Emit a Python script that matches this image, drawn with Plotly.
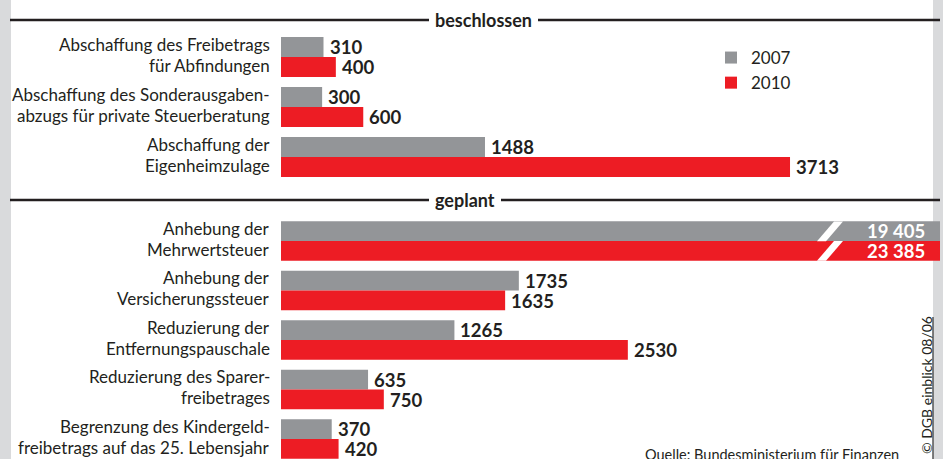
import plotly.graph_objects as go

# ---------------- data ----------------
SERIES_NAMES = ["2007", "2010"]
SERIES_COLORS = ["#939598", "#ed1c24"]

SECTION_TITLES = ["beschlossen", "geplant"]

CATS_BESCHLOSSEN = [
    "Abschaffung des Freibetrags|für Abfindungen",
    "Abschaffung des Sonderausgaben-|abzugs für private Steuerberatung",
    "Abschaffung der|Eigenheimzulage",
]
VALS_BESCHLOSSEN_2007 = [310, 300, 1488]
VALS_BESCHLOSSEN_2010 = [400, 600, 3713]

CATS_GEPLANT = [
    "Anhebung der|Mehrwertsteuer",
    "Anhebung der|Versicherungssteuer",
    "Reduzierung der|Entfernungspauschale",
    "Reduzierung des Sparer-|freibetrages",
    "Begrenzung des Kindergeld-|freibetrags auf das 25. Lebensjahr",
]
VALS_GEPLANT_2007 = [19405, 1735, 1265, 635, 370]
VALS_GEPLANT_2010 = [23385, 1635, 2530, 750, 420]

SOURCE = "Quelle: Bundesministerium für Finanzen"
CREDIT = "© DGB einblick 08/06"

# ---------------- layout constants ----------------
W, H = 943, 459
FONT = "Lato, Liberation Sans, sans-serif"
TXT = "#231f20"
XMAX = 4807
PLOT_L, PLOT_R = 281, 940


def px_x(p):
    return p / W


def px_y(p):
    return 1 - p / H


def fmt(v):
    return f"{v:,}".replace(",", " ") if v >= 10000 else str(v)


fig = go.Figure()

sections = [
    (CATS_BESCHLOSSEN, [VALS_BESCHLOSSEN_2007, VALS_BESCHLOSSEN_2010], "x", "y"),
    (CATS_GEPLANT, [VALS_GEPLANT_2007, VALS_GEPLANT_2010], "x2", "y2"),
]

annotations = []
for si, (cats, vals, xa, ya) in enumerate(sections):
    for k in range(2):
        fig.add_trace(go.Bar(
            y=cats, x=vals[k], orientation="h", name=SERIES_NAMES[k],
            marker=dict(color=SERIES_COLORS[k], line=dict(width=0)),
            xaxis=xa, yaxis=ya, showlegend=(si == 0), legendgroup=SERIES_NAMES[k],
            hoverinfo="skip",
        ))
        for c, v in zip(cats, vals[k]):
            ysh = 10 if k == 0 else -10
            if v > XMAX:
                annotations.append(dict(
                    x=px_x(927), xref="paper", y=c, yref=ya, xanchor="right",
                    yshift=ysh, text=f"<b>{fmt(v)}</b>", showarrow=False,
                    font=dict(family=FONT, size=18.5, color="white")))
            else:
                annotations.append(dict(
                    x=v, xref=xa, y=c, yref=ya, xanchor="left", xshift=4,
                    yshift=ysh, text=f"<b>{fmt(v)}</b>", showarrow=False,
                    font=dict(family=FONT, size=18.5, color=TXT)))
    for c in cats:
        l1, l2 = c.split("|")
        for txt, ysh in ((l1, 13), (l2, -8)):
            annotations.append(dict(
                x=px_x(272), xref="paper", y=c, yref=ya, xanchor="right",
                yshift=ysh, text=txt, showarrow=False,
                font=dict(family=FONT, size=17, color=TXT)))

# section headers
for title, ypx in zip(SECTION_TITLES, [20, 200]):
    annotations.append(dict(
        x=px_x(429), y=px_y(ypx), xref="paper", yref="paper", xanchor="left",
        yanchor="middle", text=f"<b>{title}</b>", showarrow=False,
        bgcolor="white", borderpad=5, borderwidth=1, bordercolor="white",
        font=dict(family=FONT, size=18, color=TXT)))

# source and credit
annotations.append(dict(
    x=px_x(901), y=px_y(444), xref="paper", yref="paper", xanchor="right",
    yanchor="top", text=SOURCE, showarrow=False,
    font=dict(family=FONT, size=14.5, color=TXT)))
annotations.append(dict(
    x=px_x(926), y=px_y(385), xref="paper", yref="paper", xanchor="center",
    yanchor="middle", text=CREDIT, textangle=-90, showarrow=False,
    font=dict(family=FONT, size=14, color=TXT)))

shapes = [
    # side strips
    dict(type="rect", xref="paper", yref="paper", x0=0, x1=px_x(11), y0=0, y1=1,
         fillcolor="#d9dadc", line=dict(width=0), layer="below"),
    dict(type="rect", xref="paper", yref="paper", x0=px_x(933), x1=1, y0=0, y1=1,
         fillcolor="#d9dadc", line=dict(width=0), layer="below"),
    dict(type="line", xref="paper", yref="paper", x0=px_x(933), x1=px_x(933),
         y0=px_y(317), y1=0, line=dict(color="#555555", width=1.5)),
]
# section rules
for ypx in [20, 200]:
    shapes.append(dict(type="line", xref="paper", yref="paper", x0=px_x(10),
                       x1=px_x(940), y0=px_y(ypx), y1=px_y(ypx),
                       line=dict(color=TXT, width=2.5), layer="below"))
# axis-break marks on the off-scale bars (white slanted stripes)
for top in [221.5, 241]:
    bot = top + 19.8
    shapes.append(dict(
        type="path", xref="paper", yref="paper",
        path=(f"M{px_x(817)},{px_y(bot)} L{px_x(826)},{px_y(bot)} "
              f"L{px_x(843)},{px_y(top)} L{px_x(834)},{px_y(top)} Z"),
        fillcolor="white", line=dict(width=0), layer="above"))

axis_common = dict(showgrid=False, zeroline=False, showticklabels=False,
                   showline=False, ticks="")

fig.update_layout(
    width=W, height=H,
    margin=dict(l=0, r=0, t=0, b=0),
    paper_bgcolor="white", plot_bgcolor="rgba(0,0,0,0)",
    barmode="group", bargap=0.2, bargroupgap=0,
    font=dict(family=FONT, size=17, color=TXT),
    xaxis=dict(domain=[px_x(PLOT_L), px_x(PLOT_R)], range=[0, XMAX], anchor="y",
               **axis_common),
    xaxis2=dict(domain=[px_x(PLOT_L), px_x(PLOT_R)], range=[0, XMAX], anchor="y2",
                **axis_common),
    yaxis=dict(domain=[px_y(182), px_y(32)], type="category",
               categoryorder="array", categoryarray=CATS_BESCHLOSSEN,
               range=[2.5, -0.5], anchor="x", **axis_common),
    yaxis2=dict(domain=[0, px_y(216.25)], type="category",
                categoryorder="array", categoryarray=CATS_GEPLANT,
                range=[4.404, -0.5], anchor="x2", **axis_common),
    legend=dict(x=px_x(711), y=px_y(40), xanchor="left", yanchor="top",
                bgcolor="rgba(0,0,0,0)", font=dict(family=FONT, size=17, color=TXT),
                traceorder="normal", itemclick=False, itemdoubleclick=False),
    annotations=annotations,
    shapes=shapes,
    showlegend=True,
)

fig.write_html("out.html", config={"displayModeBar": False},
               post_script="document.body.style.margin='0';")
